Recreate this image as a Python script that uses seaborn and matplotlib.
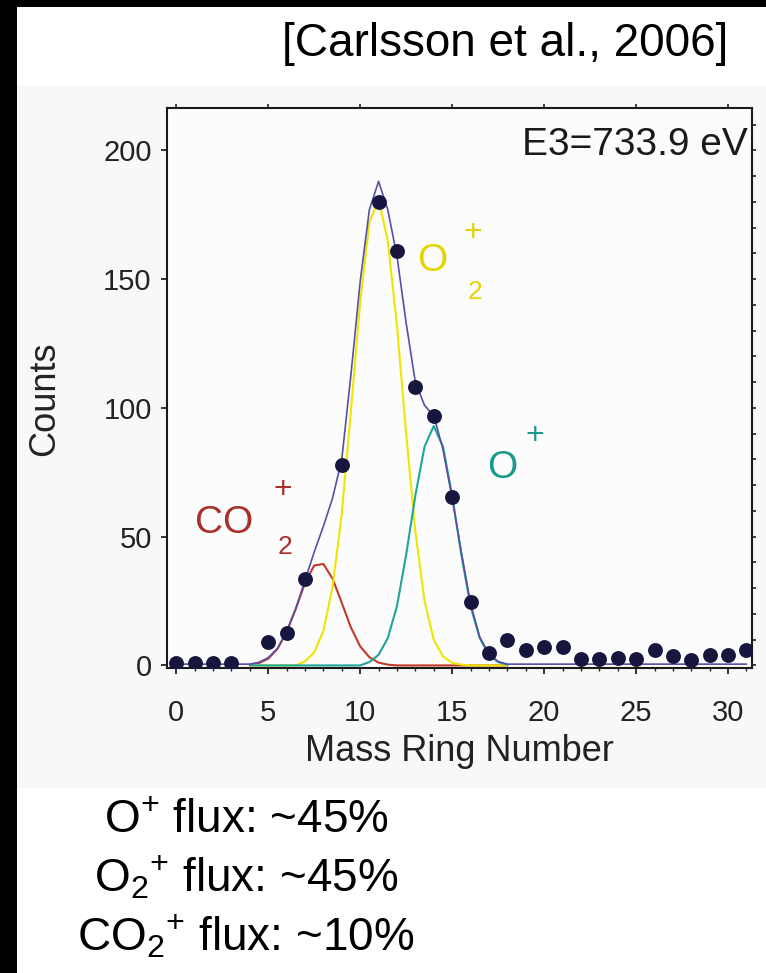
import matplotlib
matplotlib.use("Agg")
import matplotlib.pyplot as plt
import pandas as pd
import seaborn as sns
from matplotlib.patches import Rectangle

# measured counts per mass ring (no markers drawn at rings 4, 8, 10)
ring = [0, 1, 2, 3, 5, 6, 7, 9, 11, 12, 13, 14, 15, 16, 17, 18, 19, 20,
        21, 22, 23, 24, 25, 26, 27, 28, 29, 30, 31]
counts = [1, 1, 1, 1, 9, 12.5, 33.5, 78, 180, 161, 108, 97, 65.5, 24.5, 5,
          10, 6, 7, 7, 2.5, 2.5, 3, 2.5, 6, 3.5, 2, 4, 4, 6]

# fitted components, every half ring
fit_x = [4.0, 4.5, 5.0, 5.5, 6.0, 6.5, 7.0, 7.5, 8.0, 8.5, 9.0, 9.5, 10.0,
         10.5, 11.0, 11.5, 12.0, 12.5, 13.0, 13.5, 14.0, 14.5, 15.0, 15.5,
         16.0, 16.5, 17.0, 17.5, 18.0]
co2_fit = [0.3, 0.9, 2.6, 6.4, 13, 22, 32, 38.8, 39.4, 33.7, 24.3, 14.7, 7.4,
           3.2, 1.1, 0.3, 0, 0, 0, 0, 0, 0, 0, 0, 0, 0, 0, 0, 0]
o2_fit = [0, 0, 0, 0, 0, 0, 1.6, 5.0, 13.4, 30.5, 59, 99, 141, 172, 181, 165,
          132, 90, 52, 25, 10, 3.5, 1.0, 0.3, 0, 0, 0, 0, 0]
o_fit = [0, 0, 0, 0, 0, 0, 0, 0, 0, 0, 0, 0, 0, 1.3, 4.1, 10.6, 23, 43, 66,
         85, 93, 85, 66, 43, 23, 10.6, 4.1, 1.3, 0.3]

total_x = [0, 4.0, 4.5, 5.0, 5.5, 6.0, 6.5, 7.0, 7.5, 8.0, 8.5, 9.0, 9.5,
           10.0, 10.5, 11.0, 11.5, 12.0, 12.5, 13.0, 13.5, 14.0, 14.5, 15.0,
           15.5, 16.0, 16.5, 17.0, 17.5, 18.0, 31.0]
total_fit = [0.5, 0.5, 1.2, 3, 6.5, 13, 22, 33, 44, 54, 65, 80, 113, 149, 177,
             188, 177, 159, 133, 110, 101, 97, 84, 65, 44, 24, 11, 4.5, 1.5,
             0.5, 0.5]

ion_colors = {"CO2+": "#c0392b", "O2+": "#eee600", "O+": "#1fa59a"}
flux_lines = [r"O$^{+}$ flux: ~45%", r"O$_{2}$$^{+}$ flux: ~45%",
              r"CO$_{2}$$^{+}$ flux: ~10%"]

sns.set_theme(style="white")
plt.rcParams["font.family"] = ["Liberation Sans", "DejaVu Sans"]
plt.rcParams["mathtext.fontset"] = "custom"
plt.rcParams["mathtext.rm"] = "Liberation Sans"
plt.rcParams["mathtext.default"] = "regular"

W, H = 766, 973
fig = plt.figure(figsize=(W / 100, H / 100), dpi=100, facecolor="black")


def px_rect(x0, y0, x1, y1, color):
    fig.add_artist(Rectangle((x0 / W, 1 - y1 / H), (x1 - x0) / W, (y1 - y0) / H,
                             transform=fig.transFigure, facecolor=color,
                             edgecolor="none", zorder=0))


px_rect(17, 7, W, 85, "white")
px_rect(17, 85, W, 788, "#f8f8f8")
px_rect(17, 788, W, H, "white")

ax = fig.add_axes([167 / W, 1 - 668 / H, (752 - 167) / W, (668 - 108) / H])
ax.set_facecolor("#fcfcfc")

fits = pd.DataFrame({
    "ring": fit_x * 3,
    "counts": co2_fit + o2_fit + o_fit,
    "ion": ["CO2+"] * len(fit_x) + ["O2+"] * len(fit_x) + ["O+"] * len(fit_x),
})
sns.lineplot(data=fits, x="ring", y="counts", hue="ion", palette=ion_colors,
             estimator=None, sort=False, linewidth=1.5, legend=False, ax=ax)
sns.lineplot(x=total_x, y=total_fit, color="#5a4ea6", linewidth=1.2,
             estimator=None, sort=False, ax=ax)
sns.scatterplot(x=ring, y=counts, color="#16163e", s=115, linewidth=0,
                zorder=5, ax=ax)

ax.set_xlim(-0.5, 31.3)
ax.set_ylim(-1, 216.5)
ax.set_xticks(range(0, 31, 5))
ax.set_xticks(range(0, 32), minor=True)
ax.set_yticks(range(0, 201, 50))
for s in ax.spines.values():
    s.set_linewidth(1.5)
    s.set_color("#1a1a1a")
ax.tick_params(axis="x", which="major", direction="out", length=4, width=1.3,
               pad=18, labelsize=21, colors="#222222", bottom=True)
ax.tick_params(axis="x", which="minor", direction="out", length=2, width=1,
               bottom=True, colors="#222222")
ax.tick_params(axis="y", direction="out", length=4, width=1.3, pad=7,
               labelsize=21, colors="#222222", left=True)

top = ax.secondary_xaxis("top")
top.set_xticks(range(0, 31, 5))
top.tick_params(direction="out", length=3, width=1.2, labeltop=False,
                colors="#222222")
right = ax.secondary_yaxis("right")
right.set_yticks(range(0, 211, 10))
right.tick_params(direction="out", length=3, width=1.2, labelright=False,
                  colors="#222222")

ax.set_xlabel("Mass Ring Number", fontsize=26, color="#222222")
ax.xaxis.set_label_coords(0.5, -0.118)
ax.set_ylabel("Counts", fontsize=26, color="#222222")
ax.yaxis.set_label_coords(-0.18, 0.48)

ax.text(0.993, 0.916, "E3=733.9 eV", transform=ax.transAxes, ha="right",
        va="baseline", fontsize=28, color="#1a1a1a")

lab = dict(ha="center", va="center")
ax.text(2.6, 55.5, "CO", fontsize=28, color="#a8302a", **lab)
ax.text(5.8, 68, "+", fontsize=23, color="#a8302a", **lab)
ax.text(5.9, 46, "2", fontsize=19, color="#a8302a", **lab)
ax.text(13.9, 157, "O", fontsize=28, color="#e4d400", **lab)
ax.text(16.1, 168, "+", fontsize=23, color="#e4d400", **lab)
ax.text(16.25, 145, "2", fontsize=19, color="#e4d400", **lab)
ax.text(17.7, 76.5, "O", fontsize=28, color="#1a9a8c", **lab)
ax.text(19.5, 89, "+", fontsize=23, color="#1a9a8c", **lab)

fig.text(728 / W, 1 - 44 / H, "[Carlsson et al., 2006]", ha="right",
         va="center", fontsize=33, color="black")
for i, line in enumerate(flux_lines):
    fig.text(246 / W, 1 - (833 + 58.5 * i) / H, line, ha="center",
             va="baseline", fontsize=33, color="black")

fig.savefig("out.png", dpi=100, facecolor=fig.get_facecolor())
